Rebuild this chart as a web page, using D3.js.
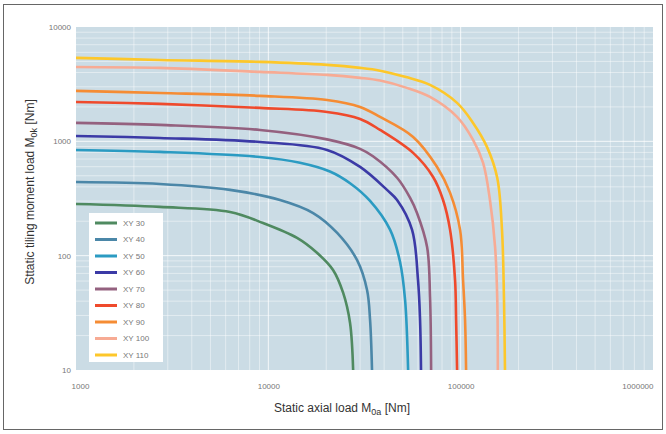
<!DOCTYPE html>
<html>
<head>
<meta charset="utf-8">
<script src="https://cdn.jsdelivr.net/npm/d3@7"></script>
<style>
  body { margin: 0; background: #fff; }
  svg { display: block; font-family: "Liberation Sans", Arial, sans-serif; }
</style>
</head>
<body>
<div id="chart"></div>
<script>
// Series names and colours (legend order)
const seriesNames = ["XY 30", "XY 40", "XY 50", "XY 60", "XY 70", "XY 80", "XY 90", "XY 100", "XY 110"];
const seriesColors = ["#4f8a60", "#4b87a8", "#2b9bc2", "#3b3aa6", "#94617f", "#ef4a2c", "#f58c34", "#f7ab94", "#fdc72a"];

// [axial load M0a (Nm), tilting moment M0k (Nm)]
const xy30 = [[1000, 283], [2730, 267], [6320, 241], [9390, 193], [14100, 143], [17900, 106], [21700, 75], [24500, 47.2], [26600, 25.8], [27600, 10]];
const xy40 = [[1000, 441], [2730, 424], [6320, 376], [11500, 307], [17100, 236], [22800, 158], [28900, 91.7], [32600, 50.1], [33800, 27.4], [34600, 10]];
const xy50 = [[1000, 841], [2730, 808], [9050, 730], [14600, 650], [20900, 545], [26600, 430], [33800, 301], [43000, 168], [48400, 88], [51400, 41], [53300, 10]];
const xy60 = [[1000, 1115], [2730, 1071], [9050, 988], [20200, 841], [30000, 597], [41400, 376], [46700, 307], [55900, 168], [60000, 61.3], [61500, 27.4], [62200, 10]];
const xy70 = [[1000, 1449], [2730, 1392], [9050, 1258], [20200, 1040], [30000, 860], [35000, 740], [46700, 480], [54600, 320], [59300, 236], [66900, 119], [69300, 43.5], [70200, 10]];
const xy80 = [[1000, 2210], [2730, 2125], [9050, 1960], [20200, 1808], [30000, 1570], [38100, 1258], [56600, 792], [71900, 488], [81000, 307], [88100, 168], [93500, 61.3], [94700, 27.4], [95800, 10]];
const xy90 = [[1000, 2760], [2730, 2650], [9050, 2500], [20200, 2300], [30000, 2000], [38100, 1635], [56600, 1093], [75400, 597], [88100, 354], [99300, 168], [102900, 61.3], [105400, 27.4], [106700, 10]];
const xy100 = [[1000, 4475], [2730, 4390], [9050, 4050], [20200, 3810], [30000, 3590], [38100, 3400], [52000, 2950], [69300, 2446], [95800, 1635], [116000, 1029], [130800, 647], [142000, 307], [151000, 119], [155000, 41], [156000, 10]];
const xy110 = [[1000, 5370], [2730, 5150], [9050, 4950], [20200, 4660], [30000, 4390], [38100, 4150], [52000, 3650], [69300, 3115], [95800, 2168], [116000, 1449], [137000, 894], [155000, 478], [164000, 168], [168000, 41], [170000, 10]];
const seriesData = [xy30, xy40, xy50, xy60, xy70, xy80, xy90, xy100, xy110];

const xTicks = [1000, 10000, 100000, 1000000];
const yTicks = [10, 100, 1000, 10000];

const W = 666, H = 434;
const margin = { top: 27, right: 13, bottom: 64, left: 76 };
const width = W - margin.left - margin.right;
const height = H - margin.top - margin.bottom;

const svg = d3.select("#chart").append("svg")
    .attr("width", W)
    .attr("height", H);

// outer frame
svg.append("rect")
    .attr("x", 3.5).attr("y", 4.5)
    .attr("width", W - 7).attr("height", H - 9)
    .attr("fill", "none")
    .attr("stroke", "#666")
    .attr("stroke-width", 1);

const g = svg.append("g")
    .attr("transform", `translate(${margin.left},${margin.top})`);

const x = d3.scaleLog().domain([1000, 1000000]).range([0, width]);
const y = d3.scaleLog().domain([10, 10000]).range([height, 0]);

g.append("rect")
    .attr("width", width).attr("height", height)
    .attr("fill", "#cbdce5");

// minor grid
const xGrid = x.ticks().filter(d => d > 1000 && d < 1000000);
const yGrid = y.ticks().filter(d => d > 10 && d < 10000);
g.selectAll(".vgrid").data(xGrid).enter().append("line")
    .attr("class", "vgrid")
    .attr("x1", d => x(d)).attr("x2", d => x(d))
    .attr("y1", 0).attr("y2", height)
    .attr("stroke", "#fff")
    .attr("stroke-opacity", d => xTicks.includes(d) ? 0.8 : 0.45)
    .attr("stroke-width", 1);
g.selectAll(".hgrid").data(yGrid).enter().append("line")
    .attr("class", "hgrid")
    .attr("x1", 0).attr("x2", width)
    .attr("y1", d => y(d)).attr("y2", d => y(d))
    .attr("stroke", "#fff")
    .attr("stroke-opacity", d => yTicks.includes(d) ? 0.8 : 0.45)
    .attr("stroke-width", 1);

// axes (labels only)
const xAxis = g.append("g")
    .attr("transform", `translate(0,${height})`)
    .call(d3.axisBottom(x).tickValues(xTicks).tickFormat(d3.format("d")).tickSize(0).tickPadding(13));
const yAxis = g.append("g")
    .call(d3.axisLeft(y).tickValues(yTicks).tickFormat(d3.format("d")).tickSize(0).tickPadding(5));
[xAxis, yAxis].forEach(a => {
    a.select(".domain").remove();
    a.selectAll("text").attr("fill", "#777").style("font-size", "8px");
});
xAxis.selectAll("text").attr("text-anchor", d => d === 1000000 ? "end" : "middle")
    .attr("dx", d => d === 1000 ? 4 : 0);

const line = d3.line()
    .x(d => x(d[0]))
    .y(d => y(d[1]))
    .curve(d3.curveCatmullRom.alpha(0.5));

g.selectAll(".series").data(seriesData).enter().append("path")
    .attr("class", "series")
    .attr("d", line)
    .attr("fill", "none")
    .attr("stroke", (d, i) => seriesColors[i])
    .attr("stroke-width", 2.6)
    .attr("stroke-linejoin", "round");

// legend
const legend = svg.append("g").attr("transform", "translate(89,213)");
legend.append("rect")
    .attr("width", 74).attr("height", 149)
    .attr("fill", "#fff");
const item = legend.selectAll(".item").data(seriesNames).enter().append("g")
    .attr("class", "item")
    .attr("transform", (d, i) => `translate(0,${10 + i * 16.5})`);
item.append("line")
    .attr("x1", 6).attr("x2", 28)
    .attr("stroke", (d, i) => seriesColors[i])
    .attr("stroke-width", 3);
item.append("text")
    .attr("x", 34).attr("dy", "0.35em")
    .attr("fill", "#777")
    .style("font-size", "8px")
    .text(d => d);

// axis titles
const xt = svg.append("text")
    .attr("x", 342).attr("y", 412)
    .attr("text-anchor", "middle")
    .attr("fill", "#333")
    .style("font-size", "12px");
xt.append("tspan").text("Static axial load M");
xt.append("tspan").attr("dy", 3).style("font-size", "9px").text("0a");
xt.append("tspan").attr("dy", -3).text(" [Nm]");

const yt = svg.append("text")
    .attr("transform", "translate(34,192) rotate(-90)")
    .attr("text-anchor", "middle")
    .attr("fill", "#333")
    .style("font-size", "12px");
yt.append("tspan").text("Sttatic tiling moment load M");
yt.append("tspan").attr("dy", 3).style("font-size", "9px").text("0k");
yt.append("tspan").attr("dy", -3).text(" [Nm]");
</script>
</body>
</html>
